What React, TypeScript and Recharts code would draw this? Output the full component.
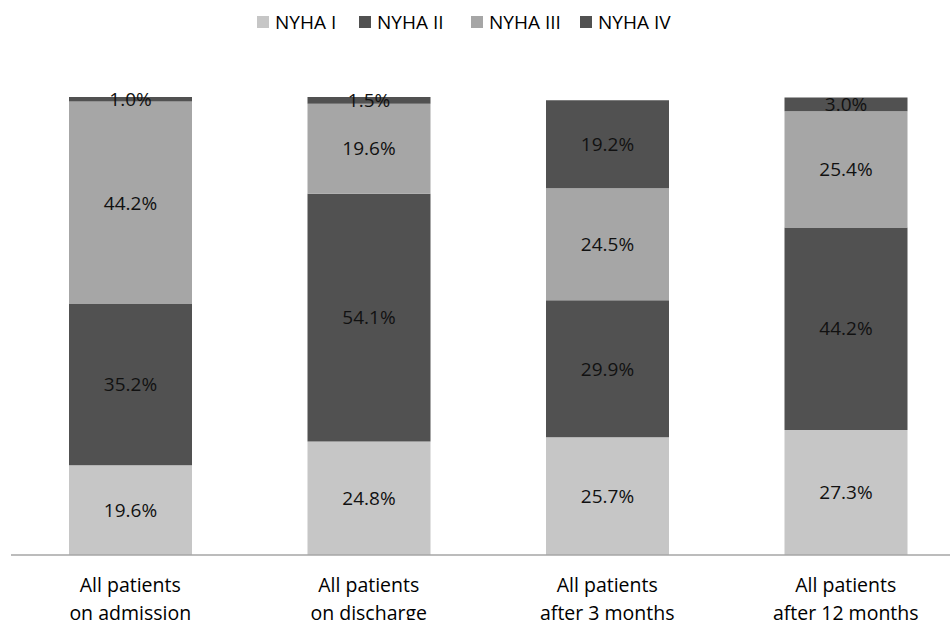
import React from "react";
import { BarChart, Bar, XAxis, YAxis, Legend, LabelList } from "recharts";

const categories = [
  "All patients\non admission",
  "All patients\non discharge",
  "All patients\nafter 3 months",
  "All patients\nafter 12 months",
];
const nyha1 = [19.6, 24.8, 25.7, 27.3];
const nyha2 = [35.2, 54.1, 29.9, 44.2];
const nyha3 = [44.2, 19.6, 24.5, 25.4];
const nyha4 = [1.0, 1.5, 19.2, 3.0];

const seriesNames = ["NYHA I", "NYHA II", "NYHA III", "NYHA IV"];
const colors = ["#c6c6c6", "#515151", "#a6a6a6", "#515151"];
const legendSlots = [102, 112, 109, 100];

const data = categories.map((c, i) => ({
  name: c,
  s1: nyha1[i],
  s2: nyha2[i],
  s3: nyha3[i],
  s4: nyha4[i],
}));

const FONT = "'Open Sans', sans-serif";

const fmt = (v: any) => `${Number(v).toFixed(1)}%`;

const Tick = (props: any) => {
  const { x, y, payload } = props;
  const lines = String(payload.value).split("\n");
  return (
    <text x={x} y={y} textAnchor="middle" fill="#000" fontFamily={FONT} fontSize={19.5}>
      {lines.map((l, i) => (
        <tspan key={i} x={x} dy={i === 0 ? 29 : 27.5}>
          {l}
        </tspan>
      ))}
    </text>
  );
};

const renderLegend = () => (
  <div style={{ position: "relative", height: 0 }}>
    <div
      style={{
        position: "absolute",
        top: 9,
        left: 257,
        display: "flex",
        alignItems: "center",
        fontFamily: FONT,
        fontSize: 19,
        color: "#000",
        whiteSpace: "nowrap",
        lineHeight: "26px",
      }}
    >
      {seriesNames.map((n, i) => (
        <div key={n} style={{ display: "flex", alignItems: "center", width: legendSlots[i] }}>
          <span
            style={{
              display: "inline-block",
              width: 12,
              height: 12,
              background: colors[i],
              marginRight: 6,
            }}
          />
          <span>{n}</span>
        </div>
      ))}
    </div>
  </div>
);

export default function App() {
  const keys = ["s1", "s2", "s3", "s4"];
  return (
    <div
      style={{
        position: "fixed",
        left: 0,
        top: 0,
        width: 950,
        height: 620,
        overflow: "hidden",
        background: "#fff",
      }}
    >
      <BarChart
        width={970}
        height={620}
        data={data}
        margin={{ top: 97, right: 5, bottom: 0, left: 11 }}
      >
        <XAxis
          dataKey="name"
          axisLine={{ stroke: "#a6a6a6", strokeWidth: 1.5 }}
          tickLine={false}
          tick={<Tick />}
          height={65}
          interval={0}
        />
        <YAxis hide domain={[0, 100]} type="number" allowDataOverflow />
        <Legend verticalAlign="top" content={renderLegend} wrapperStyle={{ top: 0, left: 0 }} />
        {keys.map((k, i) => (
          <Bar
            key={k}
            dataKey={k}
            name={seriesNames[i]}
            stackId="a"
            fill={colors[i]}
            barSize={123}
            isAnimationActive={false}
          >
            <LabelList
              dataKey={k}
              position="center"
              formatter={fmt}
              fill="#111"
              fontFamily={FONT}
              fontSize={19}
            />
          </Bar>
        ))}
      </BarChart>
    </div>
  );
}
